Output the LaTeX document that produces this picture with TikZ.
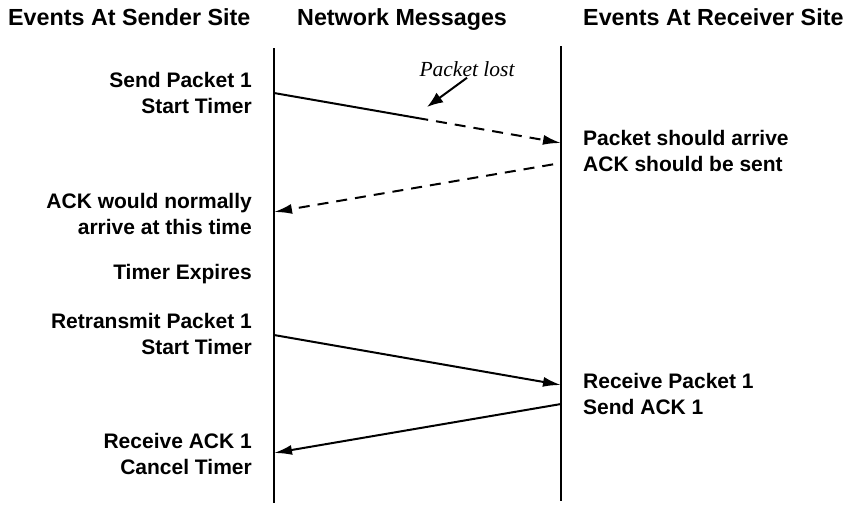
\documentclass[tikz,border=0pt]{standalone}
\usepackage{fontspec}
\setmainfont{Liberation Sans}
\newfontfamily\notefont{Liberation Serif}
\usetikzlibrary{arrows.meta,calc}

\begin{document}
\begin{tikzpicture}[
    x=1pt,y=-1pt,
    head/.style={inner sep=0pt,anchor=base west,font=\fontsize{23.3}{28}\selectfont\bfseries},
    sndlbl/.style={inner sep=0pt,anchor=base east,font=\fontsize{21}{26}\selectfont\bfseries},
    rcvlbl/.style={sndlbl,anchor=base west},
    timeline/.style={line width=2.5pt},
    msg/.style={-{Latex[length=18pt,width=10pt]},line width=2pt},
    lostmsg/.style={msg,dash pattern=on 11pt off 8pt,dash phase=11pt}
  ]
  \useasboundingbox (0,0) rectangle (858,504);

  % column headings
  \node[head] (hsnd) at (8,25) {Events At Sender Site};
  \node[head] (hnet) at (297,25) {Network Messages};
  \node[head] (hrcv) at (583,25) {Events At Receiver Site};

  % the two time lines
  \coordinate (stop) at (274,48);
  \coordinate (sbot) at (274,503);
  \coordinate (rtop) at (561,46);
  \coordinate (rbot) at (561,501);
  \draw[timeline] (stop) -- (sbot);
  \draw[timeline] (rtop) -- (rbot);

  % sender side events
  \node[sndlbl] (send1) at (252,87) {Send Packet 1};
  \node[sndlbl] (timer1) at ([yshift=-26pt]send1.base east) {Start Timer};
  \node[sndlbl] (ackexp) at (252,208) {ACK would normally};
  \node[sndlbl] (acktime) at ([yshift=-26pt]ackexp.base east) {arrive at this time};
  \node[sndlbl] (expire) at (252,279) {Timer Expires};
  \node[sndlbl] (resend) at (252,328) {Retransmit Packet 1};
  \node[sndlbl] (timer2) at ([yshift=-26pt]resend.base east) {Start Timer};
  \node[sndlbl] (getack) at (252,448) {Receive ACK 1};
  \node[sndlbl] (cancel) at ([yshift=-26pt]getack.base east) {Cancel Timer};

  % receiver side events
  \node[rcvlbl] (should) at (583,145) {Packet should arrive};
  \node[rcvlbl] (shouldack) at ([yshift=-26pt]should.base west) {ACK should be sent};
  \node[rcvlbl] (getpkt) at (583,388) {Receive Packet 1};
  \node[rcvlbl] (sendack) at ([yshift=-26pt]getpkt.base west) {Send ACK 1};

  % message end points on the time lines
  \coordinate (s1) at (274,93);
  \coordinate (r1) at (561,143);
  \coordinate (r2) at (561,163);
  \coordinate (s2) at (274,212);
  \coordinate (s3) at (274,335);
  \coordinate (r3) at (561,385);
  \coordinate (r4) at (561,404);
  \coordinate (s4) at (274,453);
  \coordinate (lost) at ($(s1)!0.537!(r1)$);

  % first packet is lost half way, so its ACK never comes
  \draw[line width=2pt] (s1) -- (lost);
  \draw[lostmsg] (lost) -- (r1);
  \draw[lostmsg] (r2) -- (s2);
  \draw[msg] (s3) -- (r3);
  \draw[msg] (r4) -- (s4);

  \node[inner sep=1pt,font=\notefont\fontsize{21.5}{26}\selectfont\itshape] (lostlbl) at (467,69) {Packet lost};
  \coordinate (losstip) at (427,107);
  \draw[-{Latex[length=16pt,width=12pt]},line width=2pt] (lostlbl.south) -- (losstip);
\end{tikzpicture}
\end{document}
